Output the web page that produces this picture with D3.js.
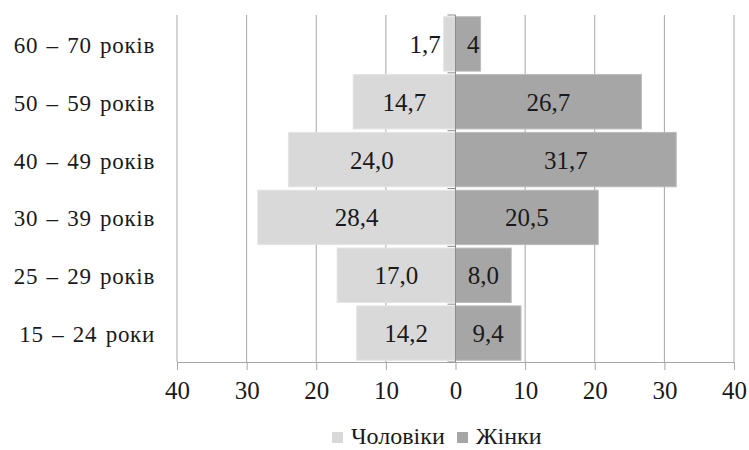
<!DOCTYPE html>
<html>
<head>
<meta charset="utf-8">
<script src="https://cdn.jsdelivr.net/npm/d3@7"></script>
</head>
<body style="margin:0">
<svg id="chart" width="749" height="450"></svg>
<script>
// ---- data ----
const categories = ["60 – 70 років", "50 – 59 років", "40 – 49 років", "30 – 39 років", "25 – 29 років", "15 – 24 роки"];
const menValues = [1.7, 14.7, 24.0, 28.4, 17.0, 14.2];
const womenValues = [3.6, 26.7, 31.7, 20.5, 8.0, 9.4];
const menLabels = ["1,7", "14,7", "24,0", "28,4", "17,0", "14,2"];
const womenLabels = ["4", "26,7", "31,7", "20,5", "8,0", "9,4"];
const tickValues = [-40, -30, -20, -10, 0, 10, 20, 30, 40];
const seriesNames = ["Чоловіки", "Жінки"];
const seriesColors = ["#d9d9d9", "#a6a6a6"];

// ---- layout ----
const FONT = "Liberation Serif";
const TXT = "#1a1a1a";
const svg = d3.select("#chart");
const pLeft = 177, pRight = 734, pTop = 15, pBottom = 362;

const x = d3.scaleLinear().domain([-40, 40]).range([pLeft, pRight]);
const y = d3.scaleBand().domain(categories).range([pTop, pBottom]).paddingInner(0.06).paddingOuter(0.03);

const serif = (sel, size) => sel.style("font-family", `"${FONT}"`)
  .attr("font-size", size).attr("fill", TXT);

// vertical gridlines
svg.append("g").selectAll("line").data(tickValues).join("line")
  .attr("x1", d => x(d)).attr("x2", d => x(d))
  .attr("y1", pTop).attr("y2", pBottom)
  .attr("stroke", "#a6a6a6").attr("stroke-width", 1);

// bottom axis with ticks
const xAxis = d3.axisBottom(x).tickValues(tickValues).tickSize(8).tickFormat(d => Math.abs(d));
const gx = svg.append("g").attr("transform", `translate(0,${pBottom})`).call(xAxis)
  .attr("font-family", null).attr("font-size", null);
gx.select(".domain").attr("stroke", "#a6a6a6").attr("stroke-width", 1);
gx.selectAll(".tick line").attr("stroke", "#a6a6a6");
gx.selectAll(".tick text").attr("y", 37).attr("dy", 0).call(serif, 25);

// bars
const rows = categories.map((c, i) => ({ c, m: menValues[i], w: womenValues[i], ml: menLabels[i], wl: womenLabels[i] }));

svg.append("g").selectAll("rect").data(rows).join("rect")
  .attr("x", d => x(-d.m)).attr("width", d => x(0) - x(-d.m))
  .attr("y", d => y(d.c)).attr("height", y.bandwidth())
  .attr("fill", seriesColors[0]).attr("stroke", "#e4e4e4").attr("stroke-width", 1);

svg.append("g").selectAll("rect").data(rows).join("rect")
  .attr("x", x(0)).attr("width", d => x(d.w) - x(0))
  .attr("y", d => y(d.c)).attr("height", y.bandwidth())
  .attr("fill", seriesColors[1]).attr("stroke", "#bababa").attr("stroke-width", 1);

// central category axis
svg.append("line").attr("x1", x(0)).attr("x2", x(0)).attr("y1", pTop).attr("y2", pBottom)
  .attr("stroke", "#8c8c8c").attr("stroke-width", 1);
const bounds = categories.map(c => y(c) - y.step() * y.paddingInner() / 2).concat([pBottom]);
bounds[0] = pTop;
svg.append("g").selectAll("line").data(bounds).join("line")
  .attr("x1", x(0) - 8).attr("x2", x(0)).attr("y1", d => d).attr("y2", d => d)
  .attr("stroke", "#8c8c8c").attr("stroke-width", 1);

// category labels
svg.append("g").selectAll("text").data(categories).join("text")
  .attr("x", 155).attr("y", d => y(d) + y.bandwidth() / 2 + 9)
  .attr("text-anchor", "end")
  .call(serif, 23)
  .style("letter-spacing", "0.7px").style("word-spacing", "2px")
  .text(d => d);

// data labels
svg.append("g").selectAll("text").data(rows).join("text")
  .attr("x", d => (x(0) - x(-d.m)) < 30 ? x(-d.m) - 3 : (x(-d.m) + x(0)) / 2)
  .attr("text-anchor", d => (x(0) - x(-d.m)) < 30 ? "end" : "middle")
  .attr("y", d => y(d.c) + y.bandwidth() / 2 + 9)
  .call(serif, 25).text(d => d.ml);

svg.append("g").selectAll("text").data(rows).join("text")
  .attr("x", d => (x(d.w) - x(0)) < 30 ? x(d.w) - 1 : (x(d.w) + x(0)) / 2)
  .attr("text-anchor", d => (x(d.w) - x(0)) < 30 ? "end" : "middle")
  .attr("y", d => y(d.c) + y.bandwidth() / 2 + 9)
  .call(serif, 25).text(d => d.wl);

// legend
const legend = svg.append("g");
const lg0 = legend.append("g").attr("transform", "translate(332,432)");
lg0.append("rect").attr("width", 11).attr("height", 11).attr("fill", seriesColors[0]);
lg0.append("text").attr("x", 19).attr("y", 12).call(serif, 24).text(seriesNames[0]);
const lg1 = legend.append("g").attr("transform", "translate(457,432)");
lg1.append("rect").attr("width", 11).attr("height", 11).attr("fill", seriesColors[1]);
lg1.append("text").attr("x", 19).attr("y", 12).call(serif, 24).text(seriesNames[1]);
</script>
</body>
</html>
